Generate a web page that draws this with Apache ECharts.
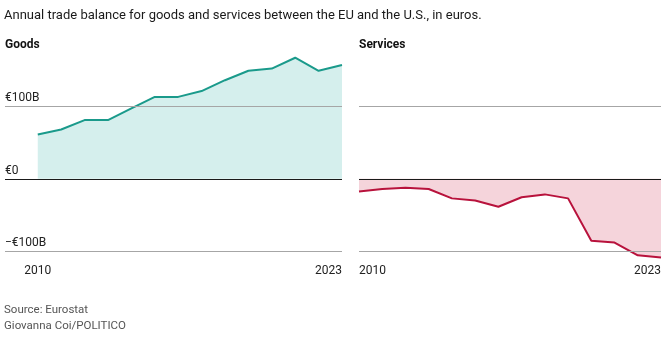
<!DOCTYPE html>
<html><head><meta charset="utf-8">
<script src="https://cdn.jsdelivr.net/npm/echarts@6/dist/echarts.min.js"></script>
<style>html,body{margin:0;padding:0;background:#fff}#c{width:664px;height:343px}</style>
</head><body><div id="c"></div>
<script>
const years = [2010,2011,2012,2013,2014,2015,2016,2017,2018,2019,2020,2021,2022,2023];
const goods = [61,68,81,81,97,113,113,121,136,149,152,167,149,157];
const services = [-17.5,-14,-12.5,-14,-27,-30,-38.5,-25.5,-21.5,-27,-85.5,-88,-105.5,-108.5];
const yTicks = [-100,0,100];
const yTickLabels = ['−€100B','€0','€100B'];
const xTickYears = [2010,2023];

const FONT = 'Roboto, "Noto Sans", sans-serif';
const chart = echarts.init(document.getElementById('c'), null, {renderer:'canvas'});

function pairs(vals){ return years.map((y,i)=>[y, vals[i]]); }
function gridMarks(){
  return {
    silent:true, symbol:'none', label:{show:false},
    data: yTicks.map(v=>({yAxis:v, lineStyle:{color: v===0 ? '#1a1a1a' : '#a6a6a6', width: v===0?1.2:1, type:'solid'}}))
  };
}

chart.setOption({
  animation:false,
  textStyle:{fontFamily:FONT},
  title:[
    {text:'Annual trade balance for goods and services between the EU and the U.S., in euros.', left:4, top:9, padding:0,
     textStyle:{fontFamily:FONT, fontSize:13, fontWeight:'normal', color:'#1a1a1a'}},
    {text:'Goods', left:5, top:39, padding:0, textStyle:{fontFamily:FONT, fontSize:12, fontWeight:'bold', color:'#111'}},
    {text:'Services', left:359, top:39, padding:0, textStyle:{fontFamily:FONT, fontSize:12, fontWeight:'bold', color:'#111'}},
    {text:'Source: Eurostat', left:4, top:304, padding:0, textStyle:{fontFamily:FONT, fontSize:11.5, fontWeight:'normal', color:'#555'}},
    {text:'Giovanna Coi/POLITICO', left:4, top:320, padding:0, textStyle:{fontFamily:FONT, fontSize:11.5, fontWeight:'normal', color:'#555'}}
  ],
  grid:[
    {left:5, right:322, top:33.8, bottom:91.7, containLabel:false},
    {left:359, right:1, top:33.8, bottom:91.7, containLabel:false}
  ],
  xAxis:[
    {type:'value', gridIndex:0, min:2008.6, max:2023,
     axisLine:{show:false}, axisTick:{show:false}, splitLine:{show:false},
     axisLabel:{customValues:xTickYears, formatter:v=>String(v), color:'#222', fontSize:12, margin:14, alignMaxLabel:'right'}},
    {type:'value', gridIndex:1, min:2010, max:2023,
     axisLine:{show:false}, axisTick:{show:false}, splitLine:{show:false},
     axisLabel:{customValues:xTickYears, formatter:v=>String(v), color:'#222', fontSize:12, margin:14, alignMinLabel:'left', alignMaxLabel:'right'}}
  ],
  yAxis:[
    {type:'value', gridIndex:0, min:-100, max:200,
     axisLine:{show:false}, axisTick:{show:false}, splitLine:{show:false},
     axisLabel:{inside:true, margin:0, verticalAlign:'bottom', padding:[0,0,2,0], customValues:yTicks,
       formatter:v=>yTickLabels[yTicks.indexOf(v)], color:'#222', fontSize:12}},
    {type:'value', gridIndex:1, min:-100, max:200,
     axisLine:{show:false}, axisTick:{show:false}, splitLine:{show:false}, axisLabel:{show:false}}
  ],
  series:[
    {type:'line', xAxisIndex:0, yAxisIndex:0, data:pairs(goods), symbol:'none', clip:false,
     lineStyle:{color:'#1a9a8b', width:2}, areaStyle:{color:'#d5efed', opacity:1, origin:0},
     markLine:gridMarks(), z:2},
    {type:'line', xAxisIndex:1, yAxisIndex:1, data:pairs(services), symbol:'none', clip:false,
     lineStyle:{color:'#b8123c', width:2}, areaStyle:{color:'#f5d4db', opacity:1, origin:0},
     markLine:gridMarks(), z:2}
  ]
});
</script></body></html>
